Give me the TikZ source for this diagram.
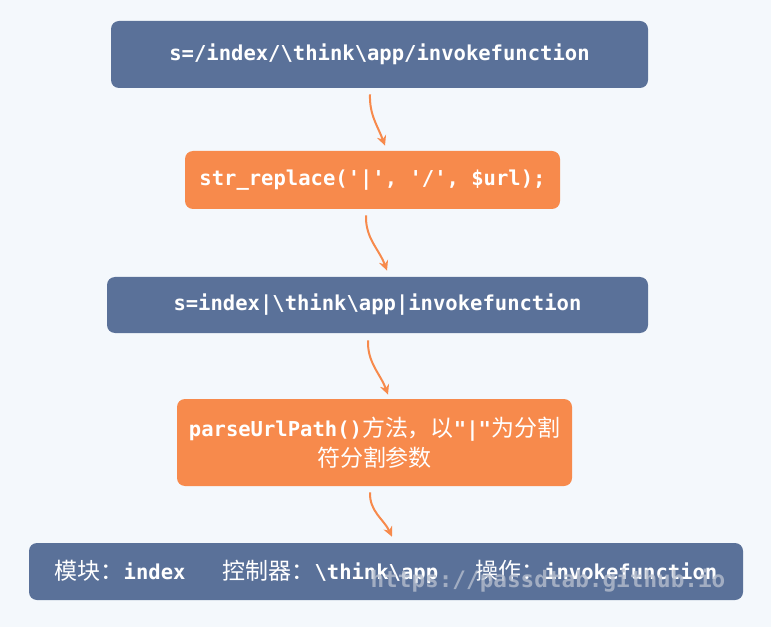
\documentclass[tikz,border=0pt]{standalone}
\usepackage{fontspec}
\setmonofont{DejaVu Sans Mono}
\newfontfamily\cjk[Scale=1.12]{Noto Sans CJK SC}
\usetikzlibrary{arrows.meta}

\begin{document}
\begin{tikzpicture}[x=0.75pt, y=0.75pt]
    % Define colours
    \definecolor{bgColour}{HTML}{F4F8FC}
    \definecolor{blueColour}{HTML}{5A7199}
    \definecolor{orangeColour}{HTML}{F78A4C}
    \definecolor{markColour}{HTML}{B4BDCD}

    % Define pixel length
    \def\px{0.75pt}

    \tikzset{
        box/.style={rounded corners=6pt, text=white, inner sep=0pt, align=center,
            font=\fontsize{15.4}{22.5}\selectfont\ttfamily\bfseries},
        bluebox/.style={box, fill=blueColour},
        orangebox/.style={box, fill=orangeColour},
        flow/.style={orangeColour, line width=1.5pt, -{Stealth[length=7.5pt, width=7pt]}}
    }
    \newcommand\zh[1]{{\cjk\mdseries #1}}

    % Draw background
    \fill[bgColour] (0,0) rectangle (771,-627);
    \useasboundingbox (0,0) rectangle (771,-627);

    % Draw boxes
    \node[bluebox, minimum width=537*\px, minimum height=67*\px] (url) at (379.5,-54.5)
        {s=/index/\textbackslash think\textbackslash app/invokefunction};
    \node[orangebox, minimum width=375*\px, minimum height=58*\px] (replace) at (372.5,-180)
        {str\_replace('|', '/', \$url);};
    \node[bluebox, minimum width=541*\px, minimum height=56*\px] (split) at (377.5,-305)
        {s=index|\textbackslash think\textbackslash app|invokefunction};
    \node[orangebox, minimum width=395*\px, minimum height=87*\px] (parse) at (374.5,-442.5)
        {parseUrlPath()\zh{方法，以}"|"\zh{为分割}\\\zh{符分割参数}};
    \node[bluebox, minimum width=714*\px, minimum height=57*\px] (result) at (386,-571.5)
        {\zh{模块：}index~~~\zh{控制器：}\textbackslash think\textbackslash app~~~\zh{操作：}invokefunction};

    % Draw watermark
    \node[text=markColour, opacity=0.8, font=\fontsize{17}{20}\selectfont\ttfamily\bfseries] (mark) at (548,-581)
        {https://passdtab.github.io};

    % Draw arrows
    \draw[flow] ([shift={(-9.5,-6)}]url.south) to[out=-92, in=110] ([shift={(12.5,5)}]replace.north);
    \draw[flow] ([shift={(-6.5,-6)}]replace.south) to[out=-92, in=110] ([shift={(9.5,6)}]split.north);
    \draw[flow] ([shift={(-9.5,-7)}]split.south) to[out=-92, in=110] ([shift={(13.5,4)}]parse.north);
    \draw[flow] ([shift={(-4.5,-6)}]parse.south) to[out=-92, in=115] ([shift={(6,6)}]result.north);

\end{tikzpicture}
\end{document}
